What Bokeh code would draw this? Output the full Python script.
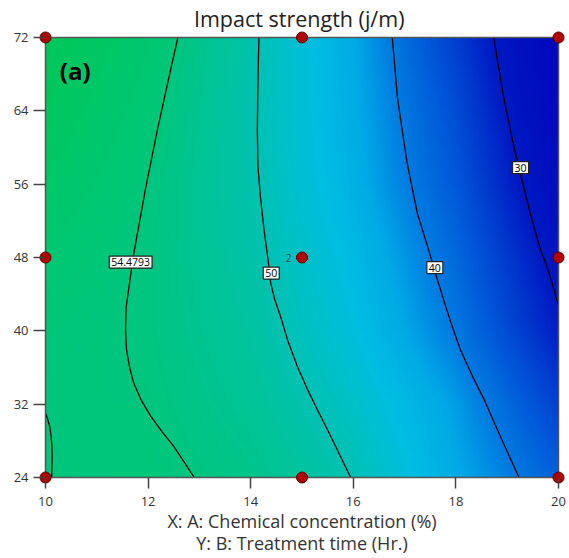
import numpy as np
from bokeh.plotting import figure
from bokeh.models import Range1d, FixedTicker, Label
from bokeh.embed import file_html
from bokeh.resources import INLINE
from bokeh.core.properties import value

# ---------------- data ----------------
x_ticks = [10, 12, 14, 16, 18, 20]
y_ticks = [24, 32, 40, 48, 56, 64, 72]

# estimated response (impact strength, j/m) on a coarse grid, rows = grid_y, cols = grid_x
grid_x = [10, 12, 14, 16, 18, 20]
grid_y = [24, 32, 40, 48, 56, 64, 72]
impact_grid = [
    [54.4, 54.7, 53.4, 49.9, 43.3, 37.2],
    [54.45, 54.4, 52.3, 48.2, 42.2, 34.1],
    [54.8, 54.1, 51.5, 46.4, 39.6, 30.6],
    [55.5, 54.1, 50.8, 45.4, 38.1, 28.5],
    [56.9, 54.4, 50.4, 44.1, 36.4, 26.1],
    [58.1, 55.1, 50.3, 43.6, 35.3, 24.3],
    [59.0, 55.9, 50.5, 43.2, 33.8, 22.9],
]

# contour lines (x, y)
c5448_x = [12.58, 12.38, 12.18, 11.95, 11.71, 11.62, 11.57, 11.56, 11.58, 11.64, 11.72, 11.86, 12.05, 12.27, 12.5, 12.7, 12.9]
c5448_y = [72, 67, 61.9, 55.5, 48.1, 44.5, 42.5, 40.0, 37.9, 36.0, 34.3, 32.5, 30.7, 29.0, 27.4, 25.7, 24]
c5448b_x = [10.0, 10.04, 10.08, 10.11, 10.125, 10.13, 10.125, 10.12]
c5448b_y = [31.0, 30.4, 29.6, 28.5, 27.4, 26.3, 25.2, 24]
c50_x = [14.16, 14.14, 14.13, 14.14, 14.19, 14.26, 14.34, 14.39, 14.47, 14.58, 14.73, 14.91, 15.1, 15.3, 15.56, 15.75, 15.95]
c50_y = [72, 67, 61.9, 58.0, 54.6, 51.0, 47.7, 45.2, 43.4, 41.6, 38.8, 36.1, 33.7, 31.4, 28.5, 26.3, 24]
c40_x = [16.76, 16.86, 16.95, 17.05, 17.15, 17.25, 17.36, 17.47, 17.61, 17.76, 17.92, 18.09, 18.31, 18.55, 18.88, 19.23]
c40_y = [72, 65.5, 62.0, 58.3, 55.5, 52.8, 50.8, 48.8, 46.1, 43.4, 40.6, 37.9, 35.2, 32.5, 28.3, 24]
c30_x = [18.74, 18.83, 18.93, 19.03, 19.13, 19.29, 19.45, 19.55, 19.65, 19.75, 19.84, 19.92, 20.0]
c30_y = [72, 68.8, 65.5, 62.8, 60.1, 56.4, 52.8, 50.8, 48.8, 47.4, 45.9, 44.3, 42.8]

label_text = ["54.4793", "50", "40", "30"]
label_x = [11.66, 14.4, 17.59, 19.26]
label_y = [47.5, 46.3, 46.9, 57.8]

# design points
pts_x = [10, 15, 20, 10, 15, 20, 10, 15, 20]
pts_y = [72, 72, 72, 48, 48, 48, 24, 24, 24]

# colour scale (value -> rgb)
lv = [20, 30, 35, 40, 43, 46, 50, 53, 55, 60]
lv_r = [0, 0, 0, 0, 0, 0, 0, 0, 0, 0]
lv_g = [0, 25, 75, 125, 170, 190, 194, 197, 199, 200]
lv_b = [185, 195, 212, 226, 230, 225, 178, 142, 118, 80]

# ---------------- figure ----------------
px_per_x = 51.3
px_per_y = 9.1875
pad = 7
dx = pad / px_per_x
dy = pad / px_per_y

p = figure(width=569, height=558, output_backend="svg", toolbar_location=None,
           x_range=Range1d(10 - dx, 20 + dx), y_range=Range1d(24 - dy, 72 + dy),
           min_border_left=38, min_border_right=4, min_border_top=30, min_border_bottom=73,
           title="Impact strength  (j/m)")
p.outline_line_color = None
p.xgrid.visible = False
p.ygrid.visible = False
p.background_fill_color = "white"
p.title.align = "center"
p.title.text_font = "Open Sans"
p.title.text_font_size = "21.5px"
p.title.text_font_style = "normal"
p.title.text_color = "#222222"
p.title.standoff = -4
p.title.offset = 0

# background shading
fx = np.linspace(10, 20, 300)
fy = np.linspace(24, 72, 300)
G = np.array(impact_grid)
rows = np.array([np.interp(fx, grid_x, r) for r in G])
Z = np.array([np.interp(fy, grid_y, rows[:, j]) for j in range(len(fx))]).T
img = np.empty(Z.shape, dtype=np.uint32)
view = img.view(dtype=np.uint8).reshape((Z.shape[0], Z.shape[1], 4))
view[:, :, 0] = np.interp(Z, lv, lv_r).astype(np.uint8)
view[:, :, 1] = np.interp(Z, lv, lv_g).astype(np.uint8)
view[:, :, 2] = np.interp(Z, lv, lv_b).astype(np.uint8)
view[:, :, 3] = 255
p.image_rgba(image=[img], x=10, y=24, dw=10, dh=48)

# contour lines
for xs, ys in [(c5448_x, c5448_y), (c5448b_x, c5448b_y), (c50_x, c50_y), (c40_x, c40_y), (c30_x, c30_y)]:
    p.line(xs, ys, line_color="black", line_width=1.3, line_join="round")

# plot border
p.quad(left=10, right=20, bottom=24, top=72, fill_color=None, line_color="#555555", line_width=1.5)

# contour labels
p.text(x=label_x, y=label_y, text=label_text, text_font=value("Open Sans"), text_font_size="10.5px",
       text_align="center", text_baseline="middle", text_color="black",
       background_fill_color="white", border_line_color="#222222", border_line_width=1.2, padding=2)

# design points
p.scatter(pts_x, pts_y, size=11, fill_color="#b00000", line_color="#5a0000", line_width=1)
p.add_layout(Label(x=14.74, y=48, text="2", text_font="Open Sans", text_font_size="10px",
                   text_color="#1c4a5c", text_align="center", text_baseline="middle"))

# axes
for ax, ticks in [(p.xaxis[0], x_ticks), (p.yaxis[0], y_ticks)]:
    ax.ticker = FixedTicker(ticks=ticks)
    ax.axis_line_color = None
    ax.minor_tick_line_color = None
    ax.major_tick_line_color = "#444444"
    ax.major_tick_line_width = 1.5
    ax.major_label_text_font = "Open Sans"
    ax.major_label_text_font_size = "13px"
    ax.major_label_text_color = "#333333"
p.xaxis.major_tick_in = 7
p.xaxis.major_tick_out = 4
p.xaxis.major_label_standoff = 8
p.yaxis.major_tick_in = 7
p.yaxis.major_tick_out = 5
p.yaxis.major_label_standoff = 5

p.xaxis.axis_label = "X: A: Chemical concentration (%)\nY: B: Treatment time (Hr.)"
p.xaxis.axis_label_text_font = "Open Sans"
p.xaxis.axis_label_text_font_size = "18px"
p.xaxis.axis_label_text_font_style = "normal"
p.xaxis.axis_label_text_color = "#333333"
p.xaxis.axis_label_text_line_height = 0.95
p.xaxis.axis_label_standoff = 0

p.add_layout(Label(x=10.58, y=68.4, text="(a)", text_font="Open Sans", text_font_style="bold",
                   text_font_size="24px", text_color="black", text_align="center", text_baseline="middle"))

open("out.html", "w").write(file_html(p, INLINE))
